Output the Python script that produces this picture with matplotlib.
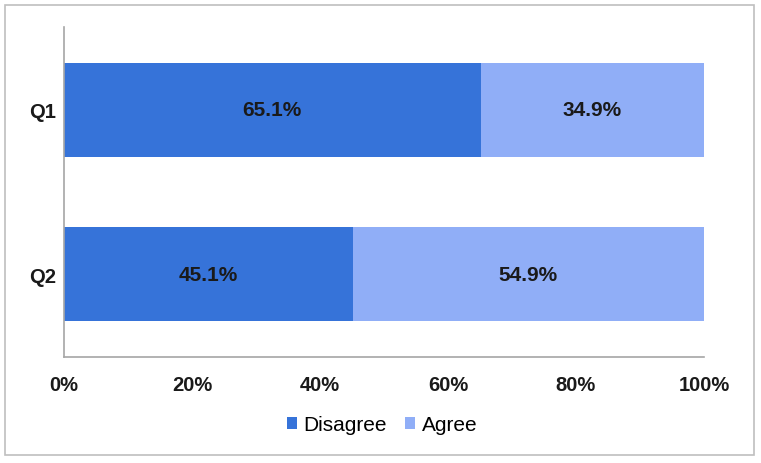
import matplotlib
matplotlib.use("Agg")
import matplotlib.pyplot as plt
from matplotlib.patches import Rectangle

categories = ["Q1", "Q2"]
disagree = [65.1, 45.1]
agree = [34.9, 54.9]
xticks = [0, 20, 40, 60, 80, 100]
xtick_labels = ["0%", "20%", "40%", "60%", "80%", "100%"]

plt.rcParams['font.family'] = ['Liberation Sans', 'DejaVu Sans']

W, H = 761, 464
fig = plt.figure(figsize=(W/100, H/100), dpi=100)
ax = fig.add_axes([64/W, 1-358/H, (704-64)/W, (358-28)/H])

c_dis = "#3673D9"
c_agr = "#90AEF7"
pos = list(range(len(categories)))
b1 = ax.barh(pos, disagree, height=0.575, color=c_dis, label="Disagree")
b2 = ax.barh(pos, agree, left=disagree, height=0.575, color=c_agr, label="Agree")

for i in pos:
    ax.text(disagree[i]/2, i, f"{disagree[i]:.1f}%", ha="center", va="center",
            fontsize=15, fontweight="bold", color="#1a1a1a")
    ax.text(disagree[i] + agree[i]/2, i, f"{agree[i]:.1f}%", ha="center", va="center",
            fontsize=15, fontweight="bold", color="#1a1a1a")

ax.set_xlim(0, 100)
ax.set_ylim(1.506, -0.506)
ax.set_yticks(pos)
ax.set_yticklabels(categories, fontsize=14.5, fontweight="bold", color="#1a1a1a")
ax.set_xticks(xticks)
ax.set_xticklabels(xtick_labels, fontsize=14.5, fontweight="bold", color="#1a1a1a")
ax.tick_params(length=0, pad=13, axis="x")
ax.tick_params(length=0, pad=6, axis="y")
for s in ["top", "right"]:
    ax.spines[s].set_visible(False)
for s in ["left", "bottom"]:
    ax.spines[s].set_color("#A6A6A6")
    ax.spines[s].set_linewidth(1.2)

leg = fig.legend(loc="center", bbox_to_anchor=(382/W, 1-426/H), ncol=2, frameon=False,
                 fontsize=15, handlelength=0.5, handleheight=0.5, handletextpad=0.3,
                 columnspacing=0.85)

fig.patches.append(Rectangle((5/W, 1-456/H), (754-5)/W, (456-6)/H, transform=fig.transFigure,
                             fill=False, edgecolor="#BFBFBF", linewidth=1.2))

fig.savefig("out.png", dpi=100)
